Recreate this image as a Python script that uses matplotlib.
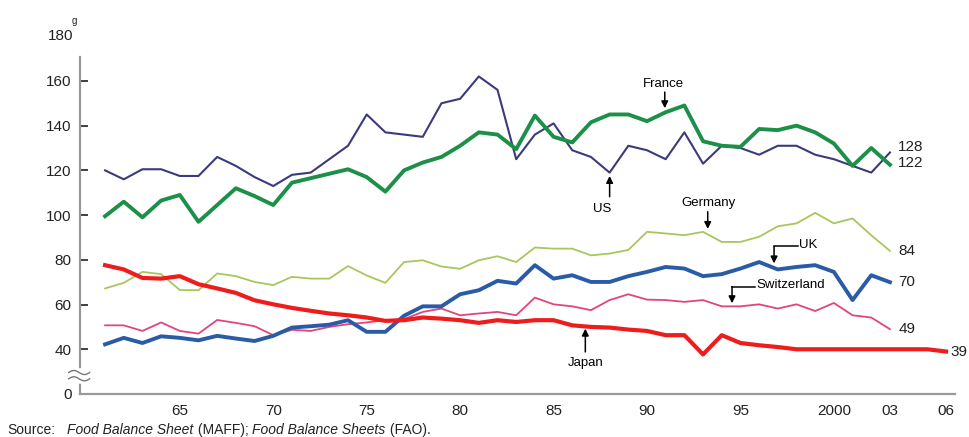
import numpy as np
import matplotlib
matplotlib.use("Agg")
import matplotlib.pyplot as plt
import matplotlib.transforms as mtransforms

plt.rcParams['font.family'] = ['Liberation Sans', 'DejaVu Sans']

# data (g per person per day)
years = list(range(1961, 2004))
years_japan = list(range(1961, 2007))

us = [120, 116, 120.5, 120.5, 117.5, 117.5, 126, 122, 117, 113,
      118, 119, 125, 131, 145, 137, 136, 135, 150, 152,
      162, 156, 125, 136, 141, 129, 126, 119, 131, 129,
      125, 137, 123, 131, 130, 127, 131, 131, 127, 125,
      122, 119, 128]
france = [99.5, 106, 99, 106.5, 109, 97, 104.5, 112, 108.5, 104.5,
          114.5, 116.5, 118.5, 120.5, 117, 110.5, 120, 123.5, 126, 131,
          137, 136, 129.5, 144.5, 135, 132.5, 141.5, 145, 145, 142,
          146, 149, 133, 131, 130.5, 138.5, 138, 140, 137, 132,
          122, 130, 122.5]
germany = [67.2, 69.7, 74.6, 73.6, 66.5, 66.4, 73.9, 72.7, 70.1, 68.7,
           72.4, 71.6, 71.6, 77.2, 73, 69.7, 79, 79.8, 77, 76,
           79.8, 81.6, 79, 85.5, 85, 85, 82, 82.8, 84.4, 92.5,
           91.8, 91, 92.5, 88, 88, 90.3, 95, 96.3, 101, 96.3,
           98.5, 91, 84]
uk = [42.2, 45.1, 42.8, 45.8, 45.1, 44, 46, 44.8, 43.7, 46,
      49.7, 50.3, 51, 53, 47.8, 47.8, 55, 59.2, 59.2, 64.6,
      66.4, 70.6, 69.4, 77.6, 71.6, 73.1, 70.1, 70.1, 72.7, 74.6,
      76.8, 76.1, 72.7, 73.6, 76.1, 79, 75.7, 76.8, 77.6, 74.6,
      62, 73.1, 70]
switzerland = [50.7, 50.7, 48.2, 52, 48.2, 47, 53.1, 51.8, 50.3, 46.3,
               48.7, 48.2, 50, 51.2, 52, 53, 53.5, 56.7, 58.2, 55.2,
               56, 56.7, 55.2, 63.1, 60.1, 59.2, 57.5, 62, 64.6, 62.2,
               62, 61.2, 62, 59.2, 59.2, 60.1, 58.2, 60.1, 57.1, 60.7,
               55.2, 54.2, 49]
japan = [77.6, 75.7, 71.9, 71.6, 72.7, 69.1, 67.2, 65.2, 61.9, 60.1,
         58.5, 57.2, 56, 55.2, 54.2, 52.7, 53, 54.2, 53.7, 53,
         51.8, 53, 52.2, 53, 53, 50.7, 50, 49.7, 48.8, 48.2,
         46.3, 46.3, 37.7, 46.3, 42.8, 41.8, 41, 40, 40, 40,
         40, 40, 40, 40, 40, 39]

end_labels = {'US': '128', 'France': '122', 'Germany': '84',
              'UK': '70', 'Switzerland': '49', 'Japan': '39'}

xtick_years = [1965, 1970, 1975, 1980, 1985, 1990, 1995, 2000, 2003, 2006]
xtick_labels = ['65', '70', '75', '80', '85', '90', '95', '2000', '03', '06']
ytick_vals = [20, 40, 60, 80, 100, 120, 140, 160]   # 20 is drawn as "0" (broken axis)
ytick_labels = ['0', '40', '60', '80', '100', '120', '140', '160']

fig = plt.figure(figsize=(9.7, 4.37), dpi=100)
ax = fig.add_axes([0.0825, 0.0984, 0.902, 0.7712])

ax.plot(years, us, color='#3b3a7c', lw=1.5, zorder=3)
ax.plot(years, france, color='#1c9048', lw=2.8, zorder=3)
ax.plot(years, germany, color='#a9c65e', lw=1.3, zorder=3)
ax.plot(years, switzerland, color='#e2457c', lw=1.3, zorder=3)
ax.plot(years, uk, color='#2a5ba6', lw=2.8, zorder=4)
ax.plot(years_japan, japan, color='#ee1d1d', lw=3.0, zorder=4)

ax.set_xlim(1959.66, 2006.48)
ax.set_ylim(20, 170.7)

for s in ['top', 'right']:
    ax.spines[s].set_visible(False)
for s in ['left', 'bottom']:
    ax.spines[s].set_color('#9a9a9a')
    ax.spines[s].set_linewidth(1.6)

ax.set_yticks(ytick_vals)
ax.set_yticklabels(ytick_labels)
ax.set_xticks(xtick_years)
ax.set_xticklabels(xtick_labels)
ax.tick_params(axis='y', direction='in', length=6, width=1.3, color='#333333',
               pad=6, labelsize=11, labelcolor='#222222')
ax.tick_params(axis='x', length=0, pad=7, labelsize=11, labelcolor='#222222')

# top label and unit
ax.text(-0.008, 180, '180', transform=mtransforms.blended_transform_factory(ax.transAxes, ax.transData),
        ha='right', va='center', fontsize=11, color='#222222', clip_on=False)
fig.text(0.0765, 0.952, 'g', fontsize=7, color='#222222', ha='center', va='center')

# axis break marks
bt = mtransforms.blended_transform_factory(ax.transAxes, ax.transData)
ax.plot([0, 0], [26.0, 30.4], color='white', lw=4, transform=bt, clip_on=False, zorder=5)
wx = np.linspace(-0.013, 0.011, 40)
for yb in (29.6, 26.8):
    ax.plot(wx, yb + 0.9 * np.sin((wx + 0.013) / 0.024 * 2 * np.pi), color='#777777',
            lw=1.0, transform=bt, clip_on=False, zorder=6)

# country labels with arrows
arr = dict(arrowstyle='-|>', color='black', lw=1.1, mutation_scale=10, shrinkA=0, shrinkB=0)
ax.text(1990.9, 158.5, 'France', ha='center', va='center', fontsize=9.5)
ax.annotate('', xy=(1990.95, 147.8), xytext=(1990.95, 155.0), arrowprops=arr)
ax.text(1987.6, 102.8, 'US', ha='center', va='center', fontsize=9.5)
ax.annotate('', xy=(1988.0, 117.5), xytext=(1988.0, 108.2), arrowprops=arr)
ax.text(1993.3, 105.5, 'Germany', ha='center', va='center', fontsize=9.5)
ax.annotate('', xy=(1993.25, 93.8), xytext=(1993.25, 101.5), arrowprops=arr)
ax.text(1986.7, 33.9, 'Japan', ha='center', va='center', fontsize=9.5)
ax.annotate('', xy=(1986.7, 49.2), xytext=(1986.7, 38.8), arrowprops=arr)

ax.text(1998.15, 86.7, 'UK', ha='left', va='center', fontsize=9.5)
ax.plot([1998.1, 1996.8], [86.0, 86.0], color='black', lw=1.1)
ax.annotate('', xy=(1996.8, 78.4), xytext=(1996.8, 86.0), arrowprops=arr)
ax.text(1995.85, 68.6, 'Switzerland', ha='left', va='center', fontsize=9.5)
ax.plot([1995.8, 1994.55], [68.0, 68.0], color='black', lw=1.1)
ax.annotate('', xy=(1994.55, 60.6), xytext=(1994.55, 68.0), arrowprops=arr)

# end values
ends = [('US', years[-1], us[-1], 4, 6), ('France', years[-1], france[-1], 1, 6),
        ('Germany', years[-1], germany[-1], 0, 6), ('UK', years[-1], uk[-1], 0, 6),
        ('Switzerland', years[-1], switzerland[-1], 0, 6),
        ('Japan', years_japan[-1], japan[-1], 0, 3)]
for name, xe, ye, dy, dx in ends:
    ax.annotate(end_labels[name], xy=(xe, ye), xytext=(dx, dy), textcoords='offset points',
                ha='left', va='center', fontsize=11, color='#222222', annotation_clip=False)

# source line, baseline near the bottom edge
ysrc = 0.008
fig.text(0.008, ysrc, 'Source:', fontsize=10, color='#222222', ha='left', va='baseline')
src = [('Food Balance Sheet', 'italic'), (' (MAFF); ', 'normal'),
       ('Food Balance Sheets', 'italic'), (' (FAO).', 'normal')]
xpos = 0.0695
r = fig.canvas.get_renderer()
for txt, st in src:
    t = fig.text(xpos, ysrc, txt, fontsize=10, style=st, color='#222222', ha='left', va='baseline')
    bb = t.get_window_extent(renderer=r)
    xpos += bb.width / fig.bbox.width

fig.savefig('out.png', dpi=100)
